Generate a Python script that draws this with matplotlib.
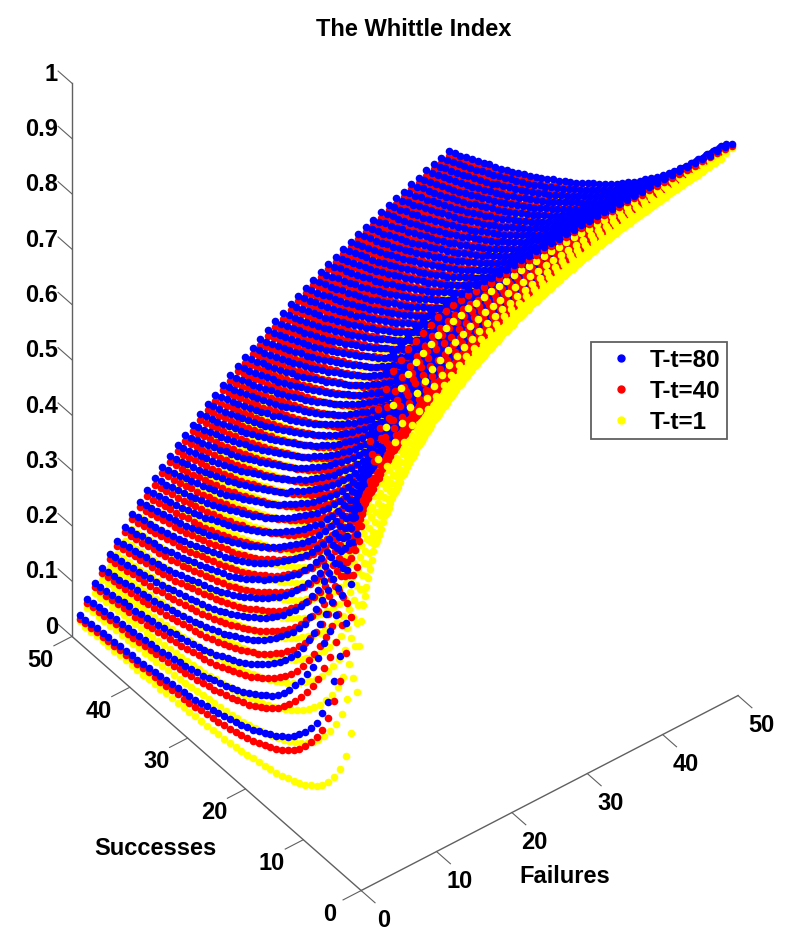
import matplotlib
matplotlib.use('Agg')
import matplotlib.pyplot as plt
from matplotlib.lines import Line2D
from matplotlib.transforms import ScaledTranslation
import numpy as np

plt.rcParams['font.family'] = ['Liberation Sans', 'DejaVu Sans']
plt.rcParams['font.weight'] = 'bold'

# index x 1000, one row per failures value 1..50, one column per successes value 1..50
index_t1 = [
[500,333,250,200,167,143,125,111,100,91,83,77,71,67,63,59,56,53,50,48,45,43,42,40,38,37,36,34,33,32,31,30,29,29,28,27,26,26,25,24,24,23,23,22,22,21,21,20,20,20],
[667,500,400,333,286,250,222,200,182,167,154,143,133,125,118,111,105,100,95,91,87,83,80,77,74,71,69,67,65,63,61,59,57,56,54,53,51,50,49,48,47,45,44,43,43,42,41,40,39,38],
[750,600,500,429,375,333,300,273,250,231,214,200,188,176,167,158,150,143,136,130,125,120,115,111,107,103,100,97,94,91,88,86,83,81,79,77,75,73,71,70,68,67,65,64,63,61,60,59,58,57],
[800,667,571,500,444,400,364,333,308,286,267,250,235,222,211,200,190,182,174,167,160,154,148,143,138,133,129,125,121,118,114,111,108,105,103,100,98,95,93,91,89,87,85,83,82,80,78,77,75,74],
[833,714,625,556,500,455,417,385,357,333,313,294,278,263,250,238,227,217,208,200,192,185,179,172,167,161,156,152,147,143,139,135,132,128,125,122,119,116,114,111,109,106,104,102,100,98,96,94,93,91],
[857,750,667,600,545,500,462,429,400,375,353,333,316,300,286,273,261,250,240,231,222,214,207,200,194,188,182,176,171,167,162,158,154,150,146,143,140,136,133,130,128,125,122,120,118,115,113,111,109,107],
[875,778,700,636,583,538,500,467,438,412,389,368,350,333,318,304,292,280,269,259,250,241,233,226,219,212,206,200,194,189,184,179,175,171,167,163,159,156,152,149,146,143,140,137,135,132,130,127,125,123],
[889,800,727,667,615,571,533,500,471,444,421,400,381,364,348,333,320,308,296,286,276,267,258,250,242,235,229,222,216,211,205,200,195,190,186,182,178,174,170,167,163,160,157,154,151,148,145,143,140,138],
[900,818,750,692,643,600,563,529,500,474,450,429,409,391,375,360,346,333,321,310,300,290,281,273,265,257,250,243,237,231,225,220,214,209,205,200,196,191,188,184,180,176,173,170,167,164,161,158,155,153],
[909,833,769,714,667,625,588,556,526,500,476,455,435,417,400,385,370,357,345,333,323,313,303,294,286,278,270,263,256,250,244,238,233,227,222,217,213,208,204,200,196,192,189,185,182,179,175,172,169,167],
[917,846,786,733,688,647,611,579,550,524,500,478,458,440,423,407,393,379,367,355,344,333,324,314,306,297,289,282,275,268,262,256,250,244,239,234,229,224,220,216,212,208,204,200,196,193,190,186,183,180],
[923,857,800,750,706,667,632,600,571,545,522,500,480,462,444,429,414,400,387,375,364,353,343,333,324,316,308,300,293,286,279,273,267,261,255,250,245,240,235,231,226,222,218,214,211,207,203,200,197,194],
[929,867,813,765,722,684,650,619,591,565,542,520,500,481,464,448,433,419,406,394,382,371,361,351,342,333,325,317,310,302,295,289,283,277,271,265,260,255,250,245,241,236,232,228,224,220,217,213,210,206],
[933,875,824,778,737,700,667,636,609,583,560,538,519,500,483,467,452,438,424,412,400,389,378,368,359,350,341,333,326,318,311,304,298,292,286,280,275,269,264,259,255,250,246,241,237,233,230,226,222,219],
[938,882,833,789,750,714,682,652,625,600,577,556,536,517,500,484,469,455,441,429,417,405,395,385,375,366,357,349,341,333,326,319,313,306,300,294,288,283,278,273,268,263,259,254,250,246,242,238,234,231],
[941,889,842,800,762,727,696,667,640,615,593,571,552,533,516,500,485,471,457,444,432,421,410,400,390,381,372,364,356,348,340,333,327,320,314,308,302,296,291,286,281,276,271,267,262,258,254,250,246,242],
[944,895,850,810,773,739,708,680,654,630,607,586,567,548,531,515,500,486,472,459,447,436,425,415,405,395,386,378,370,362,354,347,340,333,327,321,315,309,304,298,293,288,283,279,274,270,266,262,258,254],
[947,900,857,818,783,750,720,692,667,643,621,600,581,563,545,529,514,500,486,474,462,450,439,429,419,409,400,391,383,375,367,360,353,346,340,333,327,321,316,310,305,300,295,290,286,281,277,273,269,265],
[950,905,864,826,792,760,731,704,679,655,633,613,594,576,559,543,528,514,500,487,475,463,452,442,432,422,413,404,396,388,380,373,365,358,352,345,339,333,328,322,317,311,306,302,297,292,288,284,279,275],
[952,909,870,833,800,769,741,714,690,667,645,625,606,588,571,556,541,526,513,500,488,476,465,455,444,435,426,417,408,400,392,385,377,370,364,357,351,345,339,333,328,323,317,313,308,303,299,294,290,286],
[955,913,875,840,808,778,750,724,700,677,656,636,618,600,583,568,553,538,525,512,500,488,477,467,457,447,438,429,420,412,404,396,389,382,375,368,362,356,350,344,339,333,328,323,318,313,309,304,300,296],
[957,917,880,846,815,786,759,733,710,688,667,647,629,611,595,579,564,550,537,524,512,500,489,478,468,458,449,440,431,423,415,407,400,393,386,379,373,367,361,355,349,344,338,333,328,324,319,314,310,306],
[958,920,885,852,821,793,767,742,719,697,676,657,639,622,605,590,575,561,548,535,523,511,500,489,479,469,460,451,442,434,426,418,411,404,397,390,383,377,371,365,359,354,348,343,338,333,329,324,319,315],
[960,923,889,857,828,800,774,750,727,706,686,667,649,632,615,600,585,571,558,545,533,522,511,500,490,480,471,462,453,444,436,429,421,414,407,400,393,387,381,375,369,364,358,353,348,343,338,333,329,324],
[962,926,893,862,833,806,781,758,735,714,694,676,658,641,625,610,595,581,568,556,543,532,521,510,500,490,481,472,463,455,446,439,431,424,417,410,403,397,391,385,379,373,368,362,357,352,347,342,338,333],
[963,929,897,867,839,813,788,765,743,722,703,684,667,650,634,619,605,591,578,565,553,542,531,520,510,500,491,481,473,464,456,448,441,433,426,419,413,406,400,394,388,382,377,371,366,361,356,351,347,342],
[964,931,900,871,844,818,794,771,750,730,711,692,675,659,643,628,614,600,587,574,563,551,540,529,519,509,500,491,482,474,466,458,450,443,435,429,422,415,409,403,397,391,386,380,375,370,365,360,355,351],
[966,933,903,875,848,824,800,778,757,737,718,700,683,667,651,636,622,609,596,583,571,560,549,538,528,519,509,500,491,483,475,467,459,452,444,438,431,424,418,412,406,400,394,389,384,378,373,368,364,359],
[967,935,906,879,853,829,806,784,763,744,725,707,690,674,659,644,630,617,604,592,580,569,558,547,537,527,518,509,500,492,483,475,468,460,453,446,439,433,426,420,414,408,403,397,392,387,382,377,372,367],
[968,938,909,882,857,833,811,789,769,750,732,714,698,682,667,652,638,625,612,600,588,577,566,556,545,536,526,517,508,500,492,484,476,469,462,455,448,441,435,429,423,417,411,405,400,395,390,385,380,375],
[969,939,912,886,861,838,816,795,775,756,738,721,705,689,674,660,646,633,620,608,596,585,574,564,554,544,534,525,517,508,500,492,484,477,470,463,456,449,443,437,431,425,419,413,408,403,397,392,388,383],
[970,941,914,889,865,842,821,800,780,762,744,727,711,696,681,667,653,640,627,615,604,593,582,571,561,552,542,533,525,516,508,500,492,485,478,471,464,457,451,444,438,432,427,421,416,410,405,400,395,390],
[971,943,917,892,868,846,825,805,786,767,750,733,717,702,688,673,660,647,635,623,611,600,589,579,569,559,550,541,532,524,516,508,500,493,485,478,471,465,458,452,446,440,434,429,423,418,413,407,402,398],
[971,944,919,895,872,850,829,810,791,773,756,739,723,708,694,680,667,654,642,630,618,607,596,586,576,567,557,548,540,531,523,515,507,500,493,486,479,472,466,459,453,447,442,436,430,425,420,415,410,405],
[972,946,921,897,875,854,833,814,795,778,761,745,729,714,700,686,673,660,648,636,625,614,603,593,583,574,565,556,547,538,530,522,515,507,500,493,486,479,473,467,461,455,449,443,438,432,427,422,417,412],
[973,947,923,900,878,857,837,818,800,783,766,750,735,720,706,692,679,667,655,643,632,621,610,600,590,581,571,563,554,545,537,529,522,514,507,500,493,486,480,474,468,462,456,450,444,439,434,429,424,419],
[974,949,925,902,881,860,841,822,804,787,771,755,740,725,712,698,685,673,661,649,638,627,617,607,597,587,578,569,561,552,544,536,529,521,514,507,500,493,487,481,474,468,463,457,451,446,440,435,430,425],
[974,950,927,905,884,864,844,826,809,792,776,760,745,731,717,704,691,679,667,655,644,633,623,613,603,594,585,576,567,559,551,543,535,528,521,514,507,500,494,487,481,475,469,463,458,452,447,442,437,432],
[975,951,929,907,886,867,848,830,813,796,780,765,750,736,722,709,696,684,672,661,650,639,629,619,609,600,591,582,574,565,557,549,542,534,527,520,513,506,500,494,488,481,476,470,464,459,453,448,443,438],
[976,952,930,909,889,870,851,833,816,800,784,769,755,741,727,714,702,690,678,667,656,645,635,625,615,606,597,588,580,571,563,556,548,541,533,526,519,513,506,500,494,488,482,476,471,465,460,455,449,444],
[976,953,932,911,891,872,854,837,820,804,788,774,759,745,732,719,707,695,683,672,661,651,641,631,621,612,603,594,586,577,569,562,554,547,539,532,526,519,512,506,500,494,488,482,477,471,466,461,456,451],
[977,955,933,913,894,875,857,840,824,808,792,778,764,750,737,724,712,700,689,677,667,656,646,636,627,618,609,600,592,583,575,568,560,553,545,538,532,525,519,512,506,500,494,488,483,477,472,467,462,457],
[977,956,935,915,896,878,860,843,827,811,796,782,768,754,741,729,716,705,694,683,672,662,652,642,632,623,614,606,597,589,581,573,566,558,551,544,538,531,524,518,512,506,500,494,489,483,478,473,467,462],
[978,957,936,917,898,880,863,846,830,815,800,786,772,759,746,733,721,710,698,688,677,667,657,647,638,629,620,611,603,595,587,579,571,564,557,550,543,537,530,524,518,512,506,500,494,489,484,478,473,468],
[978,957,938,918,900,882,865,849,833,818,804,789,776,763,750,738,726,714,703,692,682,672,662,652,643,634,625,616,608,600,592,584,577,570,563,556,549,542,536,529,523,517,511,506,500,495,489,484,479,474],
[979,958,939,920,902,885,868,852,836,821,807,793,780,767,754,742,730,719,708,697,687,676,667,657,648,639,630,622,613,605,597,590,582,575,568,561,554,548,541,535,529,523,517,511,505,500,495,489,484,479],
[979,959,940,922,904,887,870,855,839,825,810,797,783,770,758,746,734,723,712,701,691,681,671,662,653,644,635,627,618,610,603,595,588,580,573,566,560,553,547,540,534,528,522,516,511,505,500,495,490,485],
[980,960,941,923,906,889,873,857,842,828,814,800,787,774,762,750,738,727,716,706,696,686,676,667,658,649,640,632,623,615,608,600,593,585,578,571,565,558,552,545,539,533,527,522,516,511,505,500,495,490],
[980,961,942,925,907,891,875,860,845,831,817,803,790,778,766,754,742,731,721,710,700,690,681,671,662,653,645,636,628,620,613,605,598,590,583,577,570,563,557,551,544,538,533,527,521,516,510,505,500,495],
[980,962,943,926,909,893,877,862,847,833,820,806,794,781,769,758,746,735,725,714,704,694,685,676,667,658,649,641,633,625,617,610,602,595,588,581,575,568,562,556,549,543,538,532,526,521,515,510,505,500],
]

# height of the T-t=40 points above the T-t=1 points, same layout
gap_t40 = [
[190,227,210,185,158,137,115,99,88,79,70,62,56,51,46,43,40,37,35,32,31,29,26,25,24,22,21,20,19,18,17,16,16,14,14,13,13,12,12,11,10,10,9,9,8,8,7,7,6,5],
[123,180,190,187,174,160,148,135,123,109,100,91,83,75,67,61,55,50,46,43,40,37,35,33,31,29,27,25,24,22,21,20,19,18,17,16,16,15,14,13,12,12,11,11,11,10,10,9,9,9],
[90,150,170,172,173,162,146,132,124,114,106,97,88,80,71,66,61,56,52,49,45,42,39,37,35,33,31,29,27,26,25,24,23,22,21,20,19,18,17,16,15,15,14,14,13,13,13,12,12,11],
[70,123,149,160,166,157,145,134,123,113,103,93,85,78,71,66,61,57,53,50,47,44,41,39,37,35,33,31,30,28,27,26,25,24,23,22,21,20,19,18,17,17,16,16,15,15,14,14,13,13],
[62,106,130,149,160,152,143,131,119,109,101,93,86,79,73,68,63,59,55,52,49,46,44,41,39,37,35,33,31,30,28,27,26,25,24,23,22,21,20,18,18,17,17,16,16,16,15,15,14,14],
[51,93,118,135,150,145,138,127,116,107,100,93,86,80,74,69,64,60,56,53,50,47,45,43,41,39,37,35,33,31,30,29,28,27,26,25,24,23,22,20,20,19,19,18,18,17,17,16,16,15],
[45,82,110,129,142,135,128,119,110,103,96,89,83,78,72,68,64,60,56,53,50,48,46,43,41,39,37,35,33,31,30,29,28,27,27,26,25,24,23,21,21,20,20,19,19,18,18,18,17,17],
[39,73,100,118,133,127,122,114,106,100,93,87,82,76,72,68,63,60,56,53,50,48,46,43,41,39,37,35,33,31,30,29,28,28,27,26,25,25,24,22,22,21,21,20,20,19,19,18,18,17],
[36,67,95,110,123,118,112,105,98,92,86,81,77,73,69,65,61,58,55,52,49,47,45,43,41,39,37,35,33,31,30,29,28,28,27,26,25,25,24,22,22,21,21,20,20,19,19,18,18,18],
[34,62,88,103,113,106,100,94,88,83,78,74,70,65,59,55,52,49,45,42,40,38,36,34,32,31,29,28,27,26,25,24,23,22,22,21,20,19,19,18,18,18,18,17,17,17,17,17,17,17],
[33,60,85,100,106,102,97,91,85,79,75,71,67,62,57,53,50,47,44,41,39,37,35,33,32,30,29,28,27,26,25,24,23,22,22,21,21,20,19,19,18,18,18,18,18,17,17,17,17,17],
[31,57,78,92,95,92,88,84,79,75,71,67,63,59,55,51,49,46,43,40,38,36,35,33,31,30,29,28,27,26,25,24,23,23,22,22,21,20,20,19,19,19,18,18,18,17,17,17,17,17],
[28,53,72,85,88,86,83,79,75,71,67,63,60,56,52,49,47,44,41,39,37,36,34,32,31,30,29,28,27,25,25,24,23,23,22,22,21,20,20,19,19,19,18,18,18,17,17,17,17,17],
[26,49,67,76,78,77,75,72,69,65,62,59,56,53,50,47,45,42,40,38,36,35,33,32,30,29,28,27,26,25,25,24,23,23,22,22,21,20,20,19,19,19,19,18,18,18,17,17,17,17],
[24,45,62,70,69,68,67,65,62,59,56,53,50,47,45,43,41,39,37,35,34,33,32,31,29,28,27,26,25,24,24,23,23,22,22,21,21,20,20,19,19,19,19,18,18,18,17,17,17,17],
[21,40,56,65,65,64,63,62,60,57,54,52,49,47,45,43,41,39,37,35,34,33,32,31,29,28,27,26,25,24,24,23,23,22,22,21,21,20,20,20,19,19,19,18,18,18,17,17,17,17],
[18,35,50,60,61,60,59,58,56,54,52,50,48,46,43,41,40,38,36,35,33,32,31,30,29,28,27,26,25,24,24,23,23,22,22,21,21,20,20,20,20,19,19,18,18,18,18,17,17,17],
[16,31,45,56,57,57,56,54,53,51,49,47,45,44,42,40,38,37,35,34,32,31,30,29,28,27,27,26,25,24,24,23,23,22,22,21,21,20,20,20,20,19,19,18,18,18,18,17,17,17],
[14,27,41,51,53,52,51,50,49,47,45,44,42,41,39,38,36,35,33,32,31,30,29,28,27,27,26,25,25,24,23,23,22,22,21,21,21,20,20,20,20,19,19,19,18,18,18,17,17,17],
[13,24,38,47,50,47,46,44,43,42,41,40,39,38,37,36,35,33,31,30,29,28,28,27,26,26,25,24,23,22,22,22,22,21,21,21,21,21,21,21,21,20,20,20,19,19,19,18,18,18],
[12,23,36,45,47,45,44,43,42,41,40,39,38,37,36,35,34,33,31,30,29,28,28,27,26,26,25,24,23,22,22,22,22,21,21,21,21,21,21,21,21,20,20,20,19,19,19,18,18,18],
[12,22,34,42,44,43,42,41,40,39,39,38,37,36,35,34,33,32,30,29,28,28,27,26,26,25,25,24,23,22,22,22,22,21,21,21,21,21,21,21,21,20,20,20,19,19,19,18,18,18],
[11,21,32,39,41,41,40,39,39,38,37,36,36,35,34,33,32,31,30,29,28,27,27,26,25,25,24,23,23,22,22,22,22,21,21,21,21,21,20,20,20,20,20,19,19,19,18,18,18,18],
[11,20,30,36,38,38,38,38,37,37,36,35,35,34,33,32,31,30,29,28,27,27,26,25,25,24,24,23,22,22,21,21,21,21,21,21,21,20,20,20,20,20,19,19,19,19,18,18,18,18],
[10,19,28,34,36,36,36,36,36,35,35,34,33,32,30,29,28,27,26,26,25,25,25,24,23,23,23,22,22,21,21,21,21,21,21,21,21,20,20,20,20,20,19,19,19,19,18,18,18,18],
[10,18,27,33,35,35,35,35,34,33,33,32,32,31,30,29,28,27,26,26,25,25,25,24,23,23,23,22,22,22,22,22,21,21,21,21,21,20,20,20,20,20,20,19,19,19,19,18,18,18],
[10,18,26,32,34,34,33,33,33,32,32,31,31,30,29,28,28,27,26,26,25,25,24,24,23,23,23,22,22,22,22,22,22,21,21,21,21,21,20,20,20,20,20,20,19,19,19,19,18,18],
[9,17,25,31,33,33,32,32,32,31,31,30,30,29,28,28,27,27,26,25,25,25,24,24,23,23,23,23,23,22,22,22,22,22,21,21,21,21,21,20,20,20,20,20,19,19,19,19,19,18],
[9,17,24,30,32,32,31,31,30,30,29,29,28,28,27,27,27,26,26,25,25,24,24,24,23,23,23,23,23,23,23,22,22,22,22,22,21,21,21,21,21,20,20,20,20,20,19,19,19,19],
[9,16,23,30,31,31,30,30,29,28,28,27,27,26,26,26,26,25,25,24,24,24,24,24,23,23,23,23,23,23,23,23,23,23,22,22,22,21,21,21,21,21,21,20,20,20,20,20,19,19],
[9,16,22,29,30,30,29,29,28,28,27,27,26,26,26,26,25,25,25,24,24,24,24,24,23,23,23,23,23,23,23,23,23,22,22,22,22,21,21,21,21,21,21,20,20,20,20,20,19,19],
[8,15,22,28,29,29,28,28,28,27,27,26,26,26,26,25,25,25,24,24,24,24,24,23,23,23,23,23,23,23,23,23,22,22,22,22,21,21,21,21,21,21,20,20,20,20,20,19,19,19],
[8,15,21,27,28,28,27,27,27,26,26,26,26,25,25,25,25,24,24,24,24,23,23,23,23,23,23,23,22,22,22,22,22,22,22,21,21,21,21,21,21,20,20,20,20,20,19,19,19,19],
[8,15,21,26,27,27,26,26,26,26,25,25,25,25,25,24,24,24,24,23,23,23,23,23,23,22,22,22,22,22,22,22,22,22,21,21,21,21,21,21,20,20,20,20,20,19,19,19,19,19],
[8,14,20,25,26,26,26,25,25,25,25,24,24,24,24,24,24,23,23,23,23,23,23,22,22,22,22,22,22,22,22,22,21,21,21,21,21,21,20,20,20,20,20,20,19,19,19,19,19,18],
[8,14,19,24,25,25,25,24,24,24,24,24,24,24,23,23,23,23,23,23,22,22,22,22,22,22,22,22,22,21,21,21,21,21,21,21,21,20,20,20,20,20,20,19,19,19,19,19,18,18],
[7,14,19,23,24,24,24,24,24,23,23,23,23,23,23,23,23,22,22,22,22,22,22,22,22,22,21,21,21,21,21,21,21,21,21,20,20,20,20,20,20,20,19,19,19,19,19,18,18,18],
[7,13,18,22,23,23,23,23,23,23,23,23,23,22,22,22,22,22,22,22,22,22,22,21,21,21,21,21,21,21,21,21,21,21,20,20,20,20,20,20,19,19,19,19,19,19,18,18,18,18],
[7,13,18,21,22,22,23,23,22,22,22,22,22,22,22,22,22,22,22,22,21,21,21,21,21,21,21,21,21,21,21,21,21,20,20,20,20,20,20,19,19,19,19,19,18,18,18,18,18,18],
[7,13,17,20,21,21,22,22,22,21,21,21,21,21,21,21,21,21,21,21,21,21,21,21,21,21,21,21,21,20,20,20,20,20,20,20,20,20,19,19,19,19,19,18,18,18,18,18,18,18],
[7,13,17,20,20,21,21,21,21,21,21,21,21,21,21,21,21,21,21,21,21,21,21,21,21,21,21,21,20,20,20,20,20,20,20,20,20,19,19,19,19,19,18,18,18,18,18,18,18,17],
[6,12,16,19,20,20,20,20,20,20,20,20,20,20,20,20,20,20,20,20,20,20,20,20,20,20,20,20,20,20,20,20,20,20,20,19,19,19,19,19,19,18,18,18,18,18,18,18,17,17],
[6,12,16,18,19,19,19,19,20,20,20,20,20,20,20,20,20,20,20,20,20,20,20,20,20,20,20,20,20,20,20,20,20,19,19,19,19,19,19,19,18,18,18,18,18,18,17,17,17,17],
[6,12,15,18,18,18,19,19,19,19,19,19,19,19,19,19,19,19,19,19,19,19,19,20,20,20,20,20,20,20,20,20,19,19,19,19,19,19,19,18,18,18,18,18,18,18,17,17,17,17],
[6,12,15,17,18,18,18,18,18,18,19,19,19,19,19,19,19,19,19,19,19,19,19,19,19,19,19,19,19,19,19,19,19,19,19,19,18,18,18,18,18,18,18,18,17,17,17,17,17,17],
[6,12,15,17,17,17,17,17,18,18,18,18,18,18,18,18,18,18,18,18,18,19,19,19,19,19,19,19,19,19,19,19,19,19,19,18,18,18,18,18,18,18,18,18,17,17,17,17,17,16],
[6,11,14,16,16,16,17,17,17,18,18,18,18,18,18,18,18,18,18,18,18,18,18,18,19,19,19,19,19,19,19,19,19,18,18,18,18,18,18,18,18,18,18,17,17,17,17,17,16,16],
[5,11,14,16,16,16,16,17,17,17,18,18,18,18,18,18,18,18,18,18,18,18,18,18,18,19,19,19,19,19,19,19,18,18,18,18,18,18,18,18,18,18,18,17,17,17,17,16,16,16],
[5,11,14,15,15,16,16,16,17,17,17,18,18,18,18,18,18,18,18,18,18,18,18,18,19,19,19,19,19,19,19,19,18,18,18,18,18,18,18,18,18,18,18,17,17,17,17,16,16,16],
[5,11,14,15,15,15,16,16,17,17,17,18,18,18,18,18,18,18,18,18,18,18,18,18,19,19,19,19,19,19,19,19,18,18,18,18,18,18,18,18,18,18,18,17,17,17,17,16,16,16],
]

# height of the T-t=80 points above the T-t=1 points, same layout
gap_t80 = [
[240,287,270,240,204,173,145,129,113,104,95,88,81,75,71,67,63,60,56,52,50,47,44,42,40,38,36,35,33,30,29,28,27,25,24,23,22,21,20,19,18,18,17,16,15,15,14,14,12,11],
[163,235,250,247,234,215,198,182,168,148,135,124,113,103,93,85,78,73,69,65,61,57,54,51,48,46,44,42,39,36,35,33,32,30,29,28,27,26,25,24,23,22,21,21,20,19,18,18,17,16],
[120,190,220,232,234,219,197,180,168,156,145,135,125,113,102,96,90,84,79,74,70,66,62,59,56,53,51,48,45,43,41,40,38,36,35,34,32,31,30,28,27,26,25,25,24,23,22,21,20,19],
[100,158,194,215,226,215,199,185,171,158,147,136,126,115,105,99,93,88,83,78,73,69,65,62,59,56,54,51,49,47,45,43,42,40,39,37,36,35,33,31,30,29,28,27,26,25,24,23,22,21],
[92,140,175,200,216,208,195,180,166,153,143,134,126,117,109,102,96,90,85,80,76,72,68,65,62,59,57,54,51,49,47,45,43,42,41,39,38,37,35,33,32,31,30,29,28,27,26,25,24,23],
[78,125,160,185,205,198,190,175,162,150,141,133,125,116,108,102,97,91,86,81,77,73,70,66,63,60,58,55,53,50,48,46,44,43,42,41,39,38,36,34,33,32,31,30,29,28,27,26,25,24],
[67,105,150,175,195,185,175,165,153,143,135,128,120,113,106,101,96,91,86,81,78,74,71,68,65,62,59,56,53,51,49,47,46,45,43,42,40,39,37,35,34,33,32,31,30,30,29,28,27,26],
[61,100,135,160,180,174,168,158,148,138,131,124,117,110,104,99,94,89,85,80,77,74,71,68,65,62,59,56,54,51,49,48,46,45,44,42,41,40,38,36,35,34,33,32,31,31,30,29,28,27],
[58,95,127,150,167,162,157,148,140,132,125,119,114,108,102,97,93,88,84,79,76,73,70,67,64,62,59,57,54,52,50,48,47,45,44,42,41,40,38,36,35,34,33,32,31,31,30,29,28,27],
[55,90,120,140,153,148,143,137,131,125,119,114,109,103,98,94,90,85,81,76,74,71,69,67,64,62,59,57,55,52,50,49,47,46,44,43,41,40,38,35,35,34,33,32,31,31,30,29,29,28],
[50,85,112,135,143,140,136,130,124,118,113,108,103,98,94,90,87,83,79,75,73,70,68,66,63,61,59,57,55,52,50,49,47,46,44,43,41,40,38,36,35,34,33,32,32,31,30,29,29,28],
[45,80,105,125,135,132,128,123,118,113,108,103,99,95,91,87,84,80,77,74,72,69,67,65,63,61,59,57,55,51,50,48,47,46,44,43,42,40,38,36,36,35,34,33,32,31,30,29,29,28],
[41,74,98,118,125,123,120,116,112,108,104,99,95,91,87,84,81,78,75,72,70,68,66,64,62,60,58,56,54,50,49,48,47,45,44,43,42,40,38,36,36,35,34,33,32,31,30,29,29,28],
[38,68,91,110,115,114,112,109,106,103,100,96,92,88,84,81,78,75,73,70,68,66,64,62,60,58,56,54,52,50,49,48,46,45,44,43,41,40,38,36,36,35,34,33,32,31,30,29,29,28],
[35,62,85,100,105,106,106,103,101,98,95,92,88,85,81,79,77,74,72,69,67,65,63,61,59,57,55,53,51,49,48,47,46,45,44,42,41,40,38,36,36,35,34,33,32,31,30,29,29,28],
[31,56,79,94,99,100,100,97,95,93,91,88,85,82,79,77,75,72,70,67,65,63,61,59,57,55,53,51,50,48,47,46,45,44,43,41,40,39,38,36,36,35,34,33,32,31,30,29,29,28],
[28,50,73,88,93,95,94,92,90,88,86,84,81,79,76,74,72,70,68,65,63,61,59,57,56,54,52,50,49,47,46,45,44,43,42,41,40,39,37,36,35,34,33,33,32,31,30,29,29,28],
[25,45,67,82,87,89,88,86,85,83,81,79,77,75,73,71,69,67,65,63,61,59,57,56,54,52,51,49,48,46,45,44,43,42,41,40,39,38,37,36,35,34,33,33,32,31,30,29,29,28],
[22,40,62,77,83,84,84,82,81,79,77,76,74,72,71,69,67,65,63,62,60,58,56,54,53,51,50,48,47,45,44,43,42,41,40,39,38,38,37,35,35,34,33,32,32,31,30,29,29,28],
[20,36,57,72,80,80,80,79,78,76,75,74,72,71,69,67,65,64,62,60,58,56,55,53,51,50,49,47,45,43,43,42,41,40,39,39,38,37,36,35,34,34,33,32,31,31,30,29,29,28],
[19,35,54,69,76,77,76,75,75,74,73,71,70,68,67,65,64,62,60,59,57,55,54,52,50,49,48,46,45,43,42,41,41,40,39,38,37,37,36,35,34,33,33,32,31,31,30,29,29,28],
[18,33,52,66,72,73,73,72,72,71,70,69,67,66,65,63,62,60,59,57,55,54,53,51,49,48,47,46,44,42,42,41,40,39,39,38,37,36,35,34,34,33,32,32,31,30,30,29,29,28],
[18,32,50,63,68,69,70,69,69,68,67,66,65,63,62,61,60,58,57,55,54,53,51,50,48,47,46,45,43,42,41,40,40,39,38,37,37,36,35,34,33,33,32,31,31,30,30,29,29,28],
[17,31,47,60,64,65,66,66,66,65,64,63,62,61,60,59,58,56,55,54,52,51,50,49,47,46,45,44,43,41,41,40,39,38,38,37,36,36,35,33,33,33,32,31,31,30,29,29,28,28],
[16,30,45,55,60,61,62,62,63,63,62,61,60,59,58,57,56,55,53,52,51,50,49,47,46,45,44,43,42,40,40,39,39,38,37,37,36,35,34,33,33,32,32,31,30,30,29,29,28,28],
[16,29,43,53,57,59,59,59,60,60,59,58,58,57,56,55,54,53,51,50,49,48,47,46,45,44,43,42,41,40,39,39,38,37,37,36,35,35,34,33,32,32,31,31,30,30,29,29,28,28],
[15,28,41,51,54,56,57,57,57,57,57,56,55,54,53,52,51,50,49,48,47,46,45,44,43,43,42,41,40,39,39,38,38,37,36,36,35,34,34,32,32,32,31,31,30,30,29,29,28,28],
[15,27,40,48,52,54,55,55,55,55,54,54,53,52,51,50,49,48,47,46,45,45,44,43,42,42,41,40,39,38,38,38,37,36,36,35,35,34,33,32,32,31,31,30,30,30,29,29,28,28],
[14,26,38,46,50,52,53,53,53,53,52,52,51,50,50,48,47,46,45,44,44,43,42,42,41,40,40,39,38,38,37,37,36,36,35,35,34,34,33,32,32,31,31,30,30,30,29,29,29,29],
[14,26,37,44,49,51,52,52,52,52,51,51,50,50,49,48,47,46,45,43,42,41,41,40,39,39,38,38,37,37,37,36,36,35,35,34,34,33,33,31,31,31,31,30,30,30,30,29,29,29],
[14,25,36,43,47,49,50,50,50,50,49,49,49,48,48,47,46,45,44,43,42,41,40,40,39,38,38,37,37,36,36,36,35,35,34,34,33,33,32,31,31,31,30,30,30,30,29,29,29,29],
[14,25,35,42,45,47,48,48,48,48,48,47,47,47,46,46,45,44,43,42,41,40,40,39,38,38,37,37,36,36,36,35,35,34,34,34,33,33,32,31,31,31,30,30,30,30,29,29,29,29],
[13,24,34,40,43,45,46,46,46,46,46,46,46,45,45,44,44,43,42,41,40,40,39,38,38,37,37,36,36,35,35,35,34,34,34,33,33,32,32,31,31,30,30,30,30,29,29,29,28,28],
[13,24,33,39,41,43,44,44,44,44,44,44,44,44,43,43,42,42,41,40,39,39,38,38,37,37,36,36,35,35,35,34,34,34,33,33,33,32,32,31,31,30,30,30,29,29,29,29,28,28],
[13,23,32,37,40,41,42,42,42,42,42,42,42,42,42,41,41,40,40,39,39,38,38,37,37,36,36,35,35,34,34,34,34,33,33,33,32,32,32,31,30,30,30,30,29,29,29,28,28,28],
[13,23,31,36,38,40,40,40,40,40,40,40,40,40,40,40,39,39,39,38,38,37,37,36,36,35,35,35,34,34,34,33,33,33,33,32,32,32,31,31,30,30,30,29,29,29,29,28,28,28],
[12,22,30,35,37,38,38,38,38,38,38,38,38,39,39,39,38,38,38,37,37,37,36,36,35,35,35,34,34,33,33,33,33,33,32,32,32,31,31,30,30,30,30,29,29,29,28,28,28,27],
[12,22,29,34,36,37,37,37,37,37,37,37,37,37,37,37,37,37,37,36,36,36,35,35,35,34,34,34,33,33,33,33,32,32,32,32,31,31,31,30,30,30,29,29,29,28,28,28,28,27],
[12,21,29,33,35,36,36,36,36,36,36,36,36,36,36,36,36,36,36,36,35,35,35,34,34,34,33,33,33,32,32,32,32,32,31,31,31,31,30,30,30,29,29,29,29,28,28,28,27,27],
[12,21,28,32,33,34,35,35,35,35,35,35,36,36,36,36,36,36,35,35,35,34,34,34,33,33,33,32,32,31,31,31,31,31,31,31,30,30,30,30,30,29,29,29,29,28,28,28,27,27],
[12,20,27,31,32,33,34,34,34,34,34,34,35,35,35,35,35,35,35,35,34,34,34,33,33,33,33,32,32,31,31,31,31,31,31,30,30,30,30,30,29,29,29,29,28,28,28,28,27,27],
[11,20,26,30,31,32,33,33,33,33,33,34,34,34,34,34,34,34,34,34,33,33,33,33,32,32,32,32,31,31,31,31,31,30,30,30,30,30,29,29,29,29,29,28,28,28,28,27,27,27],
[11,19,26,29,30,31,32,32,32,32,33,33,33,33,33,33,33,33,33,33,33,32,32,32,32,32,31,31,31,31,30,30,30,30,30,30,30,29,29,29,29,29,28,28,28,28,27,27,27,27],
[11,19,25,28,29,30,31,31,31,31,32,32,32,32,32,32,32,32,32,32,32,32,32,31,31,31,31,31,30,30,30,30,30,30,30,29,29,29,29,29,28,28,28,28,28,27,27,27,27,26],
[10,18,24,27,28,29,30,30,30,30,31,31,31,31,31,31,31,31,31,31,31,31,31,31,30,30,30,30,30,30,30,30,29,29,29,29,29,29,29,28,28,28,28,27,27,27,27,27,26,26],
[10,18,24,26,27,28,28,29,29,30,30,30,30,30,30,30,30,30,30,30,30,30,30,30,30,30,30,30,30,29,29,29,29,29,29,29,29,28,28,28,28,28,27,27,27,27,27,26,26,26],
[9,18,23,25,26,27,27,28,28,29,29,29,29,29,29,29,29,29,29,29,29,30,30,30,30,30,30,29,29,29,29,29,29,29,29,28,28,28,28,28,28,27,27,27,27,27,26,26,26,26],
[9,17,23,24,25,26,26,27,28,28,28,29,29,29,29,29,29,29,29,29,29,29,29,29,29,29,29,29,29,29,29,29,28,28,28,28,28,28,28,27,27,27,27,27,26,26,26,26,25,25],
[9,17,22,24,24,25,26,26,27,28,28,28,28,28,28,28,28,28,28,28,28,29,29,29,29,29,29,29,29,29,29,28,28,28,28,28,28,28,28,27,27,27,27,26,26,26,26,26,25,25],
[8,17,22,23,24,24,25,26,27,28,28,28,28,28,28,28,28,28,28,28,28,28,29,29,29,29,29,29,29,29,29,29,28,28,28,28,28,28,27,27,27,27,27,26,26,26,26,25,25,25],
]

series_colors = ['yellow', 'red', 'blue']
series_labels = ['T-t=1', 'T-t=40', 'T-t=80']

fig = plt.figure(figsize=(8, 9.45), dpi=100)
ax = fig.add_axes([-96.6 / 800, 53 / 945, 976.8 / 800, 976.8 / 945], projection='3d', proj_type='ortho')
ax.view_init(elev=42.4, azim=-127.5)
ax.set_box_aspect((1, 1, 1.577))
ax.set_xlim(0, 50, view_margin=0)
ax.set_ylim(0, 50, view_margin=0)
ax.set_zlim(0, 1, view_margin=0)
ax.patch.set_alpha(0)
ax.grid(False)
ax.computed_zorder = False
ax.zaxis._get_tickdir = lambda pos: 1

for axis in (ax.xaxis, ax.yaxis, ax.zaxis):
    axis.pane.set_visible(False)
    axis.line.set_color('#606060')
    axis.line.set_linewidth(1.0)
for axis in (ax.xaxis, ax.yaxis):
    axis._axinfo['tick']['inward_factor'] = 0.6
    axis._axinfo['tick']['outward_factor'] = 0
ax.zaxis._axinfo['tick']['inward_factor'] = 0
ax.zaxis._axinfo['tick']['outward_factor'] = 0.6

ax.set_xticks(range(0, 51, 10))
ax.set_yticks(range(0, 51, 10))
ax.set_zticks(np.arange(0, 1.01, 0.1))
ax.set_zticklabels(['0', '0.1', '0.2', '0.3', '0.4', '0.5', '0.6', '0.7', '0.8', '0.9', '1'])
ax.tick_params(labelsize=17, colors='black', color='#606060', width=1, pad=2)


# mplot3d resets the transform of its tick labels on every draw, so pin the shifted one
def shift(label, dx, dy):
    label.set_transform(ax.transData + ScaledTranslation(dx / 100, dy / 100, fig.dpi_scale_trans))
    label.set_transform = lambda t: None


for tick in ax.xaxis.get_major_ticks():
    shift(tick.label1, 15, 5)
for tick in ax.yaxis.get_major_ticks():
    shift(tick.label1, -21, 9)
for tick in ax.zaxis.get_major_ticks():
    tick.label1.set_ha('right')
    shift(tick.label1, 4, 20)

# the original z-buffer lets height decide what is on top, so draw the points in height bands
xs, ys, zs, ranks = [], [], [], []
for f, row in enumerate(index_t1, start=1):
    for s, value in enumerate(row, start=1):
        for rank, gaps in enumerate([None, gap_t40, gap_t80]):
            xs.append(f)
            ys.append(s)
            zs.append((value + (gaps[f - 1][s - 1] if gaps else 0)) / 1000)
            ranks.append(rank)
xs, ys, zs, ranks = np.array(xs), np.array(ys), np.array(zs), np.array(ranks)
depth = 2020 * zs - 4.3 * xs - 5.6 * ys
bands = ((depth - depth.min()) // 10).astype(int)
for band in np.unique(bands):
    for rank, color in enumerate(series_colors):
        keep = (bands == band) & (ranks == rank)
        if keep.any():
            ax.scatter(xs[keep], ys[keep], zs[keep], c=color, s=30, depthshade=False, linewidths=0,
                       clip_on=False, zorder=3 + band + rank / 3)

fig.text(414 / 800, 1 - 29 / 945, 'The Whittle Index', fontsize=17, ha='center', va='center')
fig.text(565 / 800, 1 - 877 / 945, 'Failures', fontsize=17, ha='center', va='center')
fig.text(155 / 800, 1 - 849 / 945, 'Successes', fontsize=17, ha='center', va='center')

handles = [Line2D([], [], ls='', marker='o', ms=5, color=c, label=l)
           for c, l in zip(series_colors[::-1], series_labels[::-1])]
leg = fig.legend(handles=handles, loc='upper left', bbox_to_anchor=(591 / 800, 1 - 343 / 945), fontsize=17.5,
                 fancybox=False, framealpha=1, edgecolor='#606060', borderaxespad=0, borderpad=0.25,
                 labelspacing=0.33, handletextpad=0.18)
leg.get_frame().set_linewidth(1.3)
fig.savefig('out.png', dpi=100)
